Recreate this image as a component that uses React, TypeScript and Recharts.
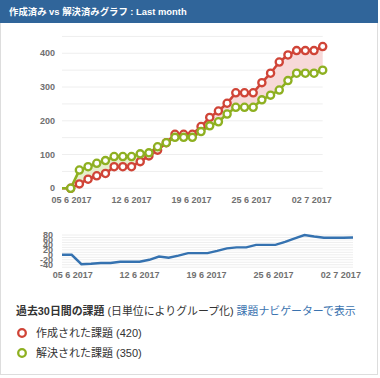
import { ComposedChart, LineChart, Line, Area, XAxis, YAxis, CartesianGrid } from 'recharts'

// day index (0 = 04 6 2017)
const days = [0, 1, 2, 3, 4, 5, 6, 7, 8, 9, 10, 11, 12, 13, 14, 15, 16, 17, 18, 19, 20, 21, 22, 23, 24, 25, 26, 27, 28, 29, 30]
const created = [0, 0, 13, 27, 37, 44, 64, 64, 64, 79, 96, 113, 135, 160, 160, 160, 183, 210, 229, 252, 283, 283, 283, 313, 341, 374, 395, 408, 408, 408, 420]
const resolved = [0, 0, 54, 64, 74, 82, 94, 94, 94, 102, 105, 123, 135, 151, 151, 151, 168, 185, 197, 220, 240, 240, 240, 262, 276, 291, 319, 341, 341, 341, 350]
const trend = [0, 0, -38, -36, -33, -33, -28, -28, -28, -20, -7, -12, -3, 7, 7, 7, 16, 26, 30, 30, 40, 40, 40, 52, 66, 80, 74, 69, 69, 69, 70]

const tickDays = [1.1, 8, 14.9, 21.8, 28.75]
const tickLabels = ['05 6 2017', '12 6 2017', '19 6 2017', '25 6 2017', '02 7 2017']
const mainTicks = [0, 50, 100, 150, 200, 250, 300, 350, 400]
const trendTicks = [-50, -40, -30, -20, -10, 0, 10, 20, 30, 40, 50, 60, 70, 80]

const RED = '#d04437'
const GREEN = '#8eb021'
const FONT = "'Liberation Sans', Arial, 'Noto Sans CJK JP', sans-serif"

const rows = days.map((d, i) => ({
  day: d,
  created: created[i],
  resolved: resolved[i],
  trend: trend[i],
  redGap: [resolved[i], Math.max(created[i], resolved[i])],
  greenGap: [created[i], Math.max(created[i], resolved[i])],
}))

const tickFmtDay = (v: number) => {
  const k = tickDays.indexOf(v)
  return k >= 0 ? tickLabels[k] : ''
}

const axisTick = { fontSize: 9, fontWeight: 'bold' as const, fill: '#707070', fontFamily: FONT }

const ringDot = (color: string) => (props: any) => {
  const { cx, cy, index } = props
  if (index === 0 || cx == null) return <g key={`d-${index}`} />
  return (
    <circle key={`d-${index}`} cx={cx} cy={cy} r={3.6} fill="#fff" stroke={color} strokeWidth={2.3} />
  )
}

function LegendRing({ color }: { color: string }) {
  return (
    <svg width={12} height={12} style={{ position: 'absolute', left: 16, top: 2 }}>
      <circle cx={6} cy={6} r={3.8} fill="#fff" stroke={color} strokeWidth={2.3} />
    </svg>
  )
}

export default function App() {
  return (
    <div style={{ position: 'absolute', left: 0, top: 0, width: 380, height: 378, background: '#fff', fontFamily: FONT }}>
      <div
        style={{
          position: 'absolute', left: 0, top: 0, width: 378, height: 375,
          border: '1px solid #dddddd', boxSizing: 'border-box',
        }}
      />
      <div
        style={{
          position: 'absolute', left: 0, top: 0, width: 378, height: 23,
          background: '#30659a', color: '#fff', fontWeight: 'bold', fontSize: 9.4,
          lineHeight: '24px', paddingLeft: 9, boxSizing: 'border-box',
        }}
      >
        作成済み vs 解決済みグラフ : Last month
      </div>

      <div style={{ position: 'absolute', left: 0, top: 0 }}>
        <ComposedChart width={380} height={215} data={rows} margin={{ top: 36.4, right: 57.3, bottom: 0, left: 0 }}>
          <CartesianGrid vertical={false} stroke="#eeeeee" />
          <XAxis
            dataKey="day"
            type="number"
            domain={[0, 30]}
            ticks={tickDays}
            tickFormatter={tickFmtDay}
            axisLine={false}
            tickLine={false}
            height={26.7}
            tick={axisTick}
            interval={0}
          />
          <YAxis
            type="number"
            domain={[0, 450]}
            ticks={mainTicks}
            tickFormatter={(v: number) => (v % 100 === 0 ? String(v) : '')}
            axisLine={false}
            tickLine={false}
            width={62}
            tickSize={5}
            tick={axisTick}
            interval={0}
          />
          <Area dataKey="redGap" stroke="none" fill="#f7d9d9" fillOpacity={1} isAnimationActive={false} />
          <Area dataKey="greenGap" stroke="none" fill="#e6efcc" fillOpacity={1} isAnimationActive={false} />
          <Line
            dataKey="created"
            stroke={RED}
            strokeWidth={2.6}
            dot={ringDot(RED)}
            activeDot={false}
            isAnimationActive={false}
          />
          <Line
            dataKey="resolved"
            stroke={GREEN}
            strokeWidth={2.6}
            dot={ringDot(GREEN)}
            activeDot={false}
            isAnimationActive={false}
          />
        </ComposedChart>
      </div>

      <div style={{ position: 'absolute', left: 0, top: 220 }}>
        <LineChart width={380} height={70} data={rows} margin={{ top: 15, right: 27, bottom: 0, left: 0 }}>
          <CartesianGrid vertical={false} stroke="#eeeeee" />
          <XAxis
            dataKey="day"
            type="number"
            domain={[0, 30]}
            ticks={tickDays}
            tickFormatter={tickFmtDay}
            axisLine={false}
            tickLine={false}
            height={22.8}
            tickSize={2}
            tick={axisTick}
            interval={0}
          />
          <YAxis
            type="number"
            domain={[-50, 80]}
            ticks={trendTicks}
            tickFormatter={(v: number) => (v % 20 === 0 ? String(v) : '')}
            axisLine={false}
            tickLine={false}
            width={62}
            tickSize={7}
            tick={axisTick}
            interval={0}
          />
          <Line dataKey="trend" stroke="#3572b0" strokeWidth={2.4} dot={false} activeDot={false} isAnimationActive={false} />
        </LineChart>
      </div>

      <div style={{ position: 'absolute', left: 16, top: 303, fontSize: 10.9, lineHeight: '16px', color: '#333', whiteSpace: 'nowrap' }}>
        <b>過去30日間の課題</b> (日単位によりグループ化) <span style={{ color: '#3b73af' }}>課題ナビゲーターで表示</span>
      </div>
      <div style={{ position: 'absolute', left: 0, top: 325, width: 300, height: 16, fontSize: 11, lineHeight: '16px', color: '#333' }}>
        <LegendRing color={RED} />
        <span style={{ position: 'absolute', left: 36, top: 0, whiteSpace: 'nowrap' }}>作成された課題 (420)</span>
      </div>
      <div style={{ position: 'absolute', left: 0, top: 345, width: 300, height: 16, fontSize: 11, lineHeight: '16px', color: '#333' }}>
        <LegendRing color={GREEN} />
        <span style={{ position: 'absolute', left: 36, top: 0, whiteSpace: 'nowrap' }}>解決された課題 (350)</span>
      </div>
    </div>
  )
}
